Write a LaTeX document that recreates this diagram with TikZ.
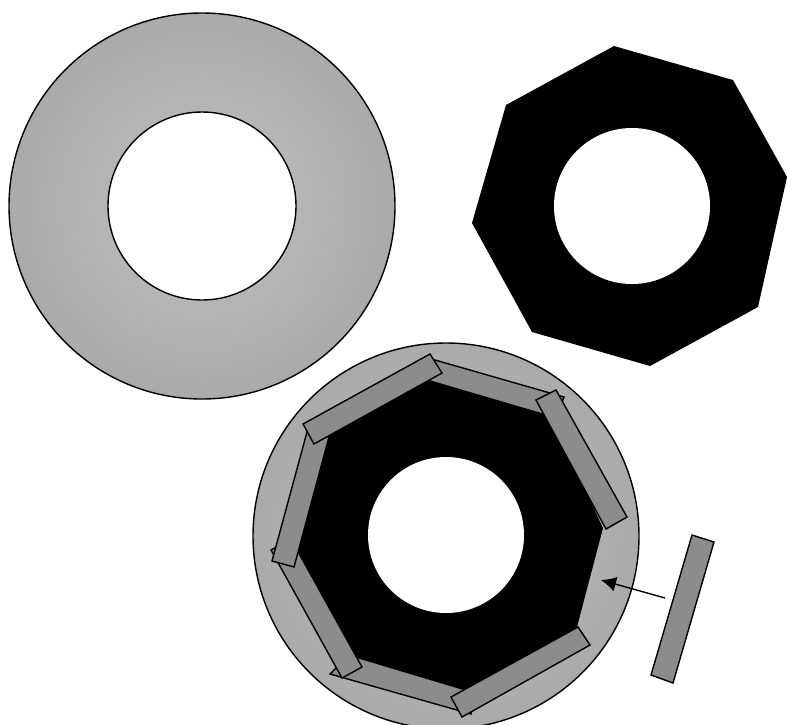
\documentclass[tikz,border=0pt]{standalone}
\usepackage{tikz}
\usetikzlibrary{arrows.meta}
\definecolor{diskin}{HTML}{C0C0C0}
\definecolor{diskout}{HTML}{AAAAAA}
\definecolor{magnet}{HTML}{8C8C8C}
\tikzset{
    disk/.style={draw=black,line width=1.4pt,inner color=diskin,outer color=diskout},
    magnet/.style={draw=black,line width=1.4pt,fill=magnet,line join=miter},
    core/.style={fill=black}
}
\begin{document}
\begin{tikzpicture}[x=1pt,y=-1pt]
    \useasboundingbox (0,0) rectangle (787,724);
    \shade[disk] (202,206) circle (193);
    \draw[fill=white,line width=1.4pt] (202,206) circle (94);

    \fill[core] (614,46)--(733,80)--(787,177)--(758,307)--(650,366)--(532,332)--(472,223)--(506,105)--cycle;
    \fill[white] (632,206) circle (78);

    \shade[disk] (446,536) circle (193);
    \fill[core] (428,381)--(547,409)--(603,528)--(577,627)--(464,695)--(346,661)--(286,552)--(320,434)--cycle;
    \fill[white] (446,535) circle (78);

    \draw[magnet] (435,360)--(564,397)--(556,418)--(430,381)--cycle;
    \draw[magnet] (330,674)--(349,655)--(476,693)--(471,714)--cycle;
    \draw[magnet] (271,550)--(291,539)--(362,667)--(342,678)--cycle;
    \draw[magnet] (307,432)--(329,437)--(294,567)--(272,561)--cycle;
    \draw[magnet] (303,424)--(430,354)--(442,373)--(314,444)--cycle;
    \draw[magnet] (536,400)--(556,390)--(627,517)--(606,529)--cycle;
    \draw[magnet] (451,697)--(578,627)--(590,645)--(462,717)--cycle;

    \draw[magnet] (692,535)--(714,542)--(673,683)--(651,675)--cycle;

    \coordinate (tail) at (665,598);
    \coordinate (tip) at (601,580);
    \draw[-{Latex[length=15pt,width=15pt]},line width=1.4pt] (tail)--(tip);
\end{tikzpicture}
\end{document}
